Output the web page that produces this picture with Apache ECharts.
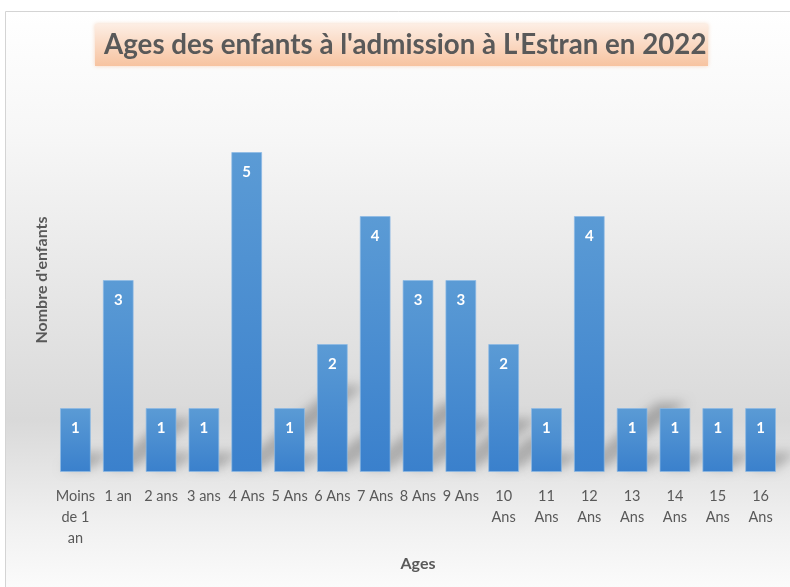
<!DOCTYPE html>
<html>
<head>
<meta charset="utf-8">
<script src="https://cdn.jsdelivr.net/npm/echarts@6/dist/echarts.min.js"></script>
<style>
html,body{margin:0;padding:0;background:#fff;}
#chart{width:790px;height:587px;}
</style>
</head>
<body>
<div id="chart"></div>
<script>
var categories = ["Moins de 1 an","1 an","2 ans","3 ans","4 Ans","5 Ans","6 Ans","7 Ans","8 Ans","9 Ans","10 Ans","11 Ans","12 Ans","13 Ans","14 Ans","15 Ans","16 Ans"];
var tickLabels = ["Moins\nde 1\nan","1 an","2 ans","3 ans","4 Ans","5 Ans","6 Ans","7 Ans","8 Ans","9 Ans","10\nAns","11\nAns","12\nAns","13\nAns","14\nAns","15\nAns","16\nAns"];
var values = [1,3,1,1,5,1,2,4,3,3,2,1,4,1,1,1,1];
var titleText = "Ages des enfants à l'admission à L'Estran en 2022";
var yName = "Nombre d'enfants";
var xName = "Ages";

var FONT = "Lato";
var chart = echarts.init(document.getElementById('chart'));
chart.setOption({
  animation: false,
  textStyle: {fontFamily: FONT},
  graphic: [
    {type:'rect', z:-10, shape:{x:5.5,y:11.5,width:800,height:600},
     style:{stroke:'#d4d4d4', lineWidth:1,
       fill:{type:'linear',x:0,y:0,x2:0,y2:1,colorStops:[
         {offset:0,color:'#ffffff'},{offset:0.2,color:'#f7f7f7'},
         {offset:0.68,color:'#d9d9d9'},{offset:0.85,color:'#f0f0f0'},{offset:1,color:'#ffffff'}]}}},
    {type:'rect', z:-5, shape:{x:95,y:24,width:613,height:42},
     style:{fill:{type:'linear',x:0,y:0,x2:0,y2:1,colorStops:[
       {offset:0,color:'#fdeee4'},{offset:1,color:'#f7c3a0'}]},
       shadowBlur:4, shadowColor:'rgba(240,170,120,0.5)'}}
  ],
  title: {
    text: titleText, left: 99, top: 26,
    textStyle: {fontFamily: FONT, fontSize: 27.7, fontWeight: 'bold', color: '#595959'}
  },
  grid: {left: 54, right: 8, top: 88, bottom: 115},
  xAxis: {
    type: 'category', data: categories,
    name: xName, nameLocation: 'middle', nameGap: 84,
    nameTextStyle: {fontFamily: FONT, fontSize: 16, fontWeight: 'bold', color: '#595959'},
    axisLine: {show: false}, axisTick: {show: false},
    axisLabel: {
      interval: 0, margin: 14, fontFamily: FONT, fontSize: 14.5, color: '#595959', lineHeight: 21,
      formatter: function (v, i) { return tickLabels[i]; }
    }
  },
  yAxis: {
    type: 'value', min: 0, max: 6,
    name: yName, nameLocation: 'middle', nameGap: 4, nameRotate: 90,
    nameTextStyle: {fontFamily: FONT, fontSize: 16, fontWeight: 'bold', color: '#595959'},
    axisLine: {show: false}, axisTick: {show: false}, axisLabel: {show: false},
    splitLine: {show: false}
  },
  series: [{
    type: 'custom', z: 1, silent: true,
    data: values,
    renderItem: function (params, api) {
      var v = api.value(1);
      var base = api.coord([api.value(0), 0]);
      var top = api.coord([api.value(0), v]);
      var w = api.size([1, 0])[0] * 0.72;
      var h = base[1] - top[1];
      var dx = h * 0.32, dy = h * 0.26;
      var off = 3000;
      var xl = base[0] - w / 2 - off + 2, xr = base[0] + w / 2 - off, y = base[1] - 3;
      return {
        type: 'polygon',
        shape: {points: [[xl, y], [xr, y], [xr + dx, y - dy], [xl + dx, y - dy]]},
        style: {fill: '#000', shadowBlur: 11, shadowOffsetX: off, shadowColor: 'rgba(0,0,0,0.24)'}
      };
    }
  }, {
    type: 'bar', data: values, barCategoryGap: '28%', z: 2,
    itemStyle: {
      color: {type:'linear',x:0,y:0,x2:0,y2:1,colorStops:[
        {offset:0,color:'#5b9bd5'},{offset:1,color:'#3a80cc'}]},
      borderColor: 'rgba(140,185,230,0.7)', borderWidth: 1
    },
    label: {
      show: true, position: 'insideTop', distance: 13,
      fontFamily: FONT, fontSize: 15, fontWeight: 'bold', color: '#ffffff'
    }
  }]
});
</script>
</body>
</html>
